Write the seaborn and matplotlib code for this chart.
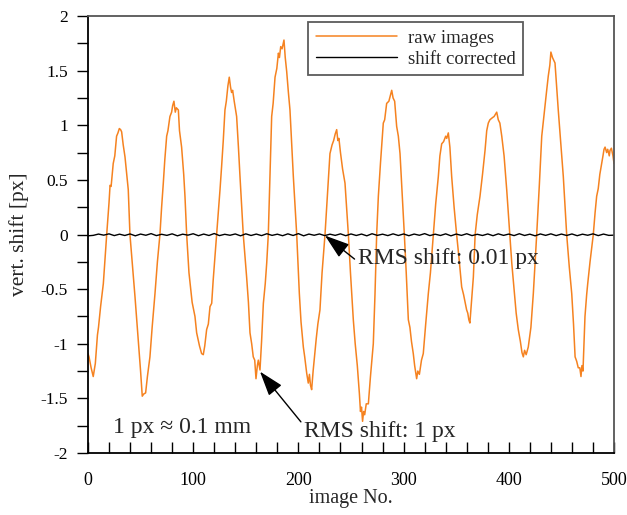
import numpy as np
import pandas as pd
import seaborn as sns
import matplotlib
matplotlib.use("Agg")
import matplotlib.pyplot as plt
from matplotlib.ticker import MultipleLocator, FuncFormatter

# vertical shift of the raw images (px) against image number
raw_x = [0, 1, 3, 5, 7, 9, 10, 12, 14.6, 16, 17.8, 20, 21, 22, 24, 25.5, 27.2, 28.5, 29.8, 31, 32,
         33.5, 35.2, 38.3, 39.9, 42, 44.7, 47.8, 50, 51.6, 53, 54.8, 56.5, 58.9, 61, 63.7, 66, 68.4,
         70, 71.6, 73, 74.8, 76, 77.9, 79.5, 80.5, 81.7, 83, 84, 85.9, 87, 89, 91, 92.2, 93.8, 96,
         99, 101.7, 103.3, 106, 108, 109.6, 111, 112.8, 114.4, 116, 117.6, 119, 122.3, 125.5, 127,
         128.6, 130.2, 131.5, 133, 134.3, 135.5, 136.5, 137.5, 139, 141.3, 143, 144.5, 147.6, 150.8,
         152.5, 154, 155.6, 157.1, 158.5, 159.7, 161, 161.9, 163.5, 165, 166.7, 168.5, 169.9, 171.4,
         173, 174.6, 176, 177.8, 179.5, 181, 182, 183.2, 184.5, 186.3, 187.5, 188.9, 190.5, 192,
         195.2, 198.4, 200.9, 202.5, 204.7, 206, 207.9, 209.4, 210.5, 211.5, 212.6, 214, 215.5, 217,
         218.5, 220.5, 222.5, 225.3, 227.5, 230, 232, 233.5, 235, 236.4, 237.5, 238.5, 240, 242,
         244.3, 247.5, 249.5, 252.2, 254, 256, 258, 259, 260, 261, 262, 263, 264.5, 266.5, 268.5,
         271.2, 272.8, 274.4, 276, 278, 280.7, 282, 283.9, 286, 288.7, 290, 291.5, 293.4, 295, 296.6,
         298.5, 300.7, 302.5, 304.5, 306, 307.5, 309.2, 310.5, 311.3, 312.4, 313.5, 315, 317, 318.7,
         321, 323.5, 325.5, 328.3, 330.5, 333, 334.5, 336.2, 338, 340, 341, 342.5, 344, 345.7, 348,
         350.4, 352.5, 355.2, 357, 358.5, 359.9, 361, 362, 363, 364.5, 366.3, 368, 370, 372.6, 375,
         377.4, 379, 380.5, 382, 384.5, 386, 388.5, 390, 391.5, 393.3, 395.5, 398, 401, 402.8, 405,
         407, 409, 411, 412.5, 413.8, 415, 416.5, 418.5, 421, 423.3, 426.5, 429, 431.3, 433.5, 436,
         437.5, 439, 440, 441.5, 443.9, 445.5, 447, 449.5, 451.8, 455, 457.5, 459.8, 461.5, 463,
         464.5, 466, 467.5, 468.6, 469.5, 470.5, 472.4, 474, 475, 477.2, 479, 480.3, 482, 483.5, 485,
         486.5, 488.3, 489.5, 490.5, 491.5, 493, 494, 495.5, 496.2, 497.5, 499, 500]
raw_y = [-1.09, -1.12, -1.22, -1.30, -1.18, -0.92, -0.85, -0.66, -0.45, -0.25, 0.0, 0.29, 0.45, 0.44,
         0.65, 0.72, 0.90, 0.93, 0.97, 0.96, 0.94, 0.82, 0.71, 0.41, 0.0, -0.25, -0.57, -0.97, -1.25,
         -1.48, -1.46, -1.45, -1.30, -1.12, -0.85, -0.54, -0.25, 0.0, 0.25, 0.47, 0.68, 0.90, 0.95,
         1.08, 1.12, 1.18, 1.22, 1.12, 1.16, 1.14, 0.95, 0.80, 0.55, 0.35, 0.0, -0.35, -0.62, -0.75,
         -0.90, -1.02, -1.09, -1.10, -1.02, -0.87, -0.82, -0.66, -0.63, -0.42, 0.0, 0.41, 0.62, 0.86,
         1.14, 1.22, 1.36, 1.44, 1.35, 1.30, 1.32, 1.22, 1.08, 0.80, 0.53, 0.0, -0.39, -0.62, -0.90,
         -1.00, -1.12, -1.15, -1.32, -1.20, -1.15, -1.24, -0.98, -0.63, -0.45, -0.26, 0.0, 0.55, 1.08,
         1.20, 1.44, 1.52, 1.66, 1.62, 1.72, 1.70, 1.78, 1.62, 1.49, 1.30, 1.14, 0.53, 0.0, -0.54,
         -0.80, -1.03, -1.12, -1.27, -1.36, -1.28, -1.38, -1.42, -1.25, -1.10, -0.95, -0.82, -0.69,
         -0.35, 0.0, 0.35, 0.74, 0.82, 0.86, 0.92, 0.96, 0.86, 0.88, 0.75, 0.60, 0.47, 0.0, -0.35,
         -0.78, -1.00, -1.20, -1.46, -1.62, -1.58, -1.71, -1.62, -1.65, -1.55, -1.55, -1.30, -1.00,
         -0.55, 0.0, 0.35, 0.65, 1.02, 1.05, 1.20, 1.22, 1.32, 1.25, 1.22, 0.99, 0.90, 0.74, 0.40,
         0.0, -0.35, -0.78, -0.85, -0.98, -1.09, -1.20, -1.25, -1.32, -1.25, -1.28, -1.15, -1.09,
         -0.82, -0.54, -0.35, 0.0, 0.28, 0.53, 0.72, 0.83, 0.85, 0.90, 0.88, 0.93, 0.80, 0.53, 0.25,
         0.0, -0.20, -0.48, -0.55, -0.62, -0.69, -0.72, -0.78, -0.81, -0.62, -0.39, 0.0, 0.18, 0.35,
         0.55, 0.77, 0.95, 1.02, 1.05, 1.07, 1.08, 1.12, 1.05, 1.02, 0.90, 0.72, 0.41, 0.0, -0.26,
         -0.50, -0.72, -0.87, -0.98, -1.08, -1.12, -1.06, -1.10, -1.03, -0.85, -0.54, 0.0, 0.45,
         0.90, 1.10, 1.32, 1.45, 1.55, 1.67, 1.62, 1.57, 1.35, 1.14, 0.82, 0.53, 0.0, -0.30, -0.54,
         -0.82, -1.12, -1.16, -1.22, -1.22, -1.30, -1.20, -1.25, -0.75, -0.55, -0.45, -0.25, -0.10,
         0.0, 0.20, 0.35, 0.42, 0.55, 0.65, 0.72, 0.78, 0.80, 0.75, 0.78, 0.72, 0.77, 0.79, 0.72,
         0.65]

# residual shift after correction, one value every 5 images
corr_step = 5
corr_y = [-0.012, -0.008, 0.004, -0.006, 0.006, -0.010, 0.003, -0.009, 0.005, -0.012, 0.004,
          -0.007, 0.008, -0.010, 0.002, -0.008, 0.006, -0.012, 0.003, -0.006, 0.007, -0.011,
          0.004, -0.009, 0.009, -0.010, 0.002, -0.007, 0.005, -0.012, 0.006, -0.009, 0.004,
          -0.010, 0.007, -0.008, 0.003, -0.011, 0.006, -0.009, 0.008, -0.012, 0.004, -0.007,
          0.005, -0.010, 0.003, -0.008, 0.006, -0.011, 0.005, -0.009, 0.004, -0.012, 0.007,
          -0.008, 0.003, -0.010, 0.006, -0.009, 0.005, -0.011, 0.004, -0.007, 0.008, -0.010,
          0.003, -0.009, 0.006, -0.012, 0.004, -0.008, 0.007, -0.010, 0.002, -0.009, 0.005,
          -0.011, 0.006, -0.008, 0.004, -0.010, 0.007, -0.009, 0.003, -0.012, 0.005, -0.008,
          0.006, -0.010, 0.004, -0.009, 0.005, -0.011, 0.003, -0.007, 0.006, -0.010, 0.004,
          -0.008, -0.006]
corr_x = [i * corr_step for i in range(len(corr_y))]

series_labels = ["raw images", "shift corrected"]
x_label = "image No."
y_label = "vert. shift [px]"
note_scale = "1 px \u2248 0.1 mm"
note_raw = "RMS shift: 1 px"
note_corr = "RMS shift: 0.01 px"

raw_df = pd.DataFrame({"image": raw_x, "shift": raw_y})
corr_df = pd.DataFrame({"image": corr_x, "shift": corr_y})

sns.set_style("ticks")
plt.rcParams["font.family"] = ["Liberation Serif", "DejaVu Serif"]
plt.rcParams["axes.unicode_minus"] = False

fig = plt.figure(figsize=(6.27, 5.15), dpi=100)
ax = fig.add_axes([0.1403, 0.1204, 0.8390, 0.8485])

sns.lineplot(data=raw_df, x="image", y="shift", ax=ax, color="#f58220", lw=1.1,
             label=series_labels[0], sort=False)
sns.lineplot(data=corr_df, x="image", y="shift", ax=ax, color="black", lw=1.0,
             label=series_labels[1], sort=False)

ax.set_xlim(0, 500)
ax.set_ylim(-2, 2)
ax.set_xlabel(x_label, fontsize=14.5, labelpad=0)
ax.set_ylabel(y_label, fontsize=15.5, labelpad=8)

ax.xaxis.set_major_locator(MultipleLocator(100))
ax.xaxis.set_minor_locator(MultipleLocator(20))
ax.yaxis.set_major_locator(MultipleLocator(0.5))
ax.yaxis.set_minor_locator(MultipleLocator(0.25))
ax.yaxis.set_major_formatter(FuncFormatter(lambda v, p: f"{v:g}"))
ax.tick_params(axis="x", which="both", direction="in", length=8, width=1.0,
               labelsize=13, pad=14, colors="black")
ax.tick_params(axis="y", which="both", direction="out", length=8, width=1.0,
               labelsize=12.5, pad=6.4, colors="black")
for side in ["left", "bottom"]:
    ax.spines[side].set_linewidth(1.3)
    ax.spines[side].set_color("black")
for side in ["top", "right"]:
    ax.spines[side].set_linewidth(1.3)
    ax.spines[side].set_color("#555555")

leg = ax.legend(loc="upper right", bbox_to_anchor=(0.827, 0.986), fontsize=13.5,
                frameon=True, fancybox=False, handlelength=4.3, handletextpad=0.6,
                borderpad=0.4, labelspacing=0.2, borderaxespad=0)
leg.get_frame().set_edgecolor("#333333")
leg.get_frame().set_linewidth(1.3)

ax.text(24, -1.77, note_scale, fontsize=17, ha="left", va="center")
ax.annotate(note_raw, xy=(163.5, -1.255), xytext=(205.5, -1.80), fontsize=17,
            ha="left", va="center",
            arrowprops=dict(arrowstyle="-|>,head_length=0.9,head_width=0.3", color="black",
                            lw=1.0, shrinkA=0, shrinkB=0, relpos=(0, 0.75)))
ax.annotate(note_corr, xy=(225.3, -0.01), xytext=(256.5, -0.22), fontsize=17,
            ha="left", va="center",
            arrowprops=dict(arrowstyle="-|>,head_length=0.9,head_width=0.3", color="black",
                            lw=1.0, shrinkA=0, shrinkB=0, relpos=(0, 0.35)))

fig.savefig("out.png", dpi=100)
